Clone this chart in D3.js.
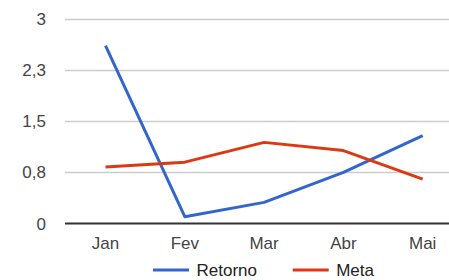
<!DOCTYPE html>
<html>
<head>
<meta charset="utf-8">
<script src="https://cdn.jsdelivr.net/npm/d3@7"></script>
<style>
  body { margin: 0; background: #fff; }
  text { font-family: "Liberation Sans", Arial, sans-serif; }
</style>
</head>
<body>
<div id="chart"></div>
<script>
var width = 449,
  height = 280;

// data
var months = ["Jan", "Fev", "Mar", "Abr", "Mai"];
var retorno = [2.61, 0.10, 0.31, 0.75, 1.29];
var meta = [0.83, 0.90, 1.19, 1.07, 0.65];
var yTicks = [0, 0.75, 1.5, 2.25, 3];
var yTickLabels = ["0", "0,8", "1,5", "2,3", "3"];

var series = [
  { name: "Retorno", values: retorno, color: "#3366cc" },
  { name: "Meta", values: meta, color: "#dc3912" }
];

var svg = d3.select("#chart")
  .append("svg")
  .attr("width", width)
  .attr("height", height);

var x = d3.scalePoint().domain(months).range([105.5, 422.7]);
var y = d3.scaleLinear().domain([0, 3]).range([223.5, 19]);

// gridlines
svg.selectAll(".grid")
  .data(yTicks.slice(1))
  .enter()
  .append("line")
  .attr("x1", 65)
  .attr("x2", width)
  .attr("y1", function (d) { return Math.round(y(d)) + 0.5; })
  .attr("y2", function (d) { return Math.round(y(d)) + 0.5; })
  .style("stroke", "#cccccc")
  .style("stroke-width", 1.5);

// y tick labels
svg.selectAll(".ylab")
  .data(yTicks)
  .enter()
  .append("text")
  .attr("x", 46)
  .attr("y", function (d) { return y(d) + 6; })
  .attr("text-anchor", "end")
  .style("font-size", "17px")
  .style("fill", "#444")
  .text(function (d, i) { return yTickLabels[i]; });

// x labels
svg.selectAll(".xlab")
  .data(months)
  .enter()
  .append("text")
  .attr("x", function (d) { return x(d); })
  .attr("y", 249)
  .attr("text-anchor", "middle")
  .style("font-size", "17px")
  .style("fill", "#444")
  .text(function (d) { return d; });

// series lines
var line = d3.line()
  .x(function (d, i) { return x(months[i]); })
  .y(function (d) { return y(d); });

svg.selectAll(".series")
  .data(series)
  .enter()
  .append("path")
  .attr("d", function (s) { return line(s.values); })
  .style("fill", "none")
  .style("stroke", function (s) { return s.color; })
  .style("stroke-width", 3)
  .style("stroke-linejoin", "round");

// baseline
svg.append("line")
  .attr("x1", 65)
  .attr("x2", width)
  .attr("y1", y(0))
  .attr("y2", y(0))
  .style("stroke", "#333")
  .style("stroke-width", 2);

// legend
var legendX = [153, 292.7];
var lg = svg.selectAll(".legend")
  .data(series)
  .enter()
  .append("g")
  .attr("transform", function (d, i) { return "translate(" + legendX[i] + ",270)"; });

lg.append("line")
  .attr("x1", 0)
  .attr("x2", 36)
  .style("stroke", function (d) { return d.color; })
  .style("stroke-width", 3);

lg.append("text")
  .attr("x", 43.5)
  .attr("y", 6)
  .style("font-size", "17px")
  .style("fill", "#222")
  .text(function (d) { return d.name; });
</script>
</body>
</html>
